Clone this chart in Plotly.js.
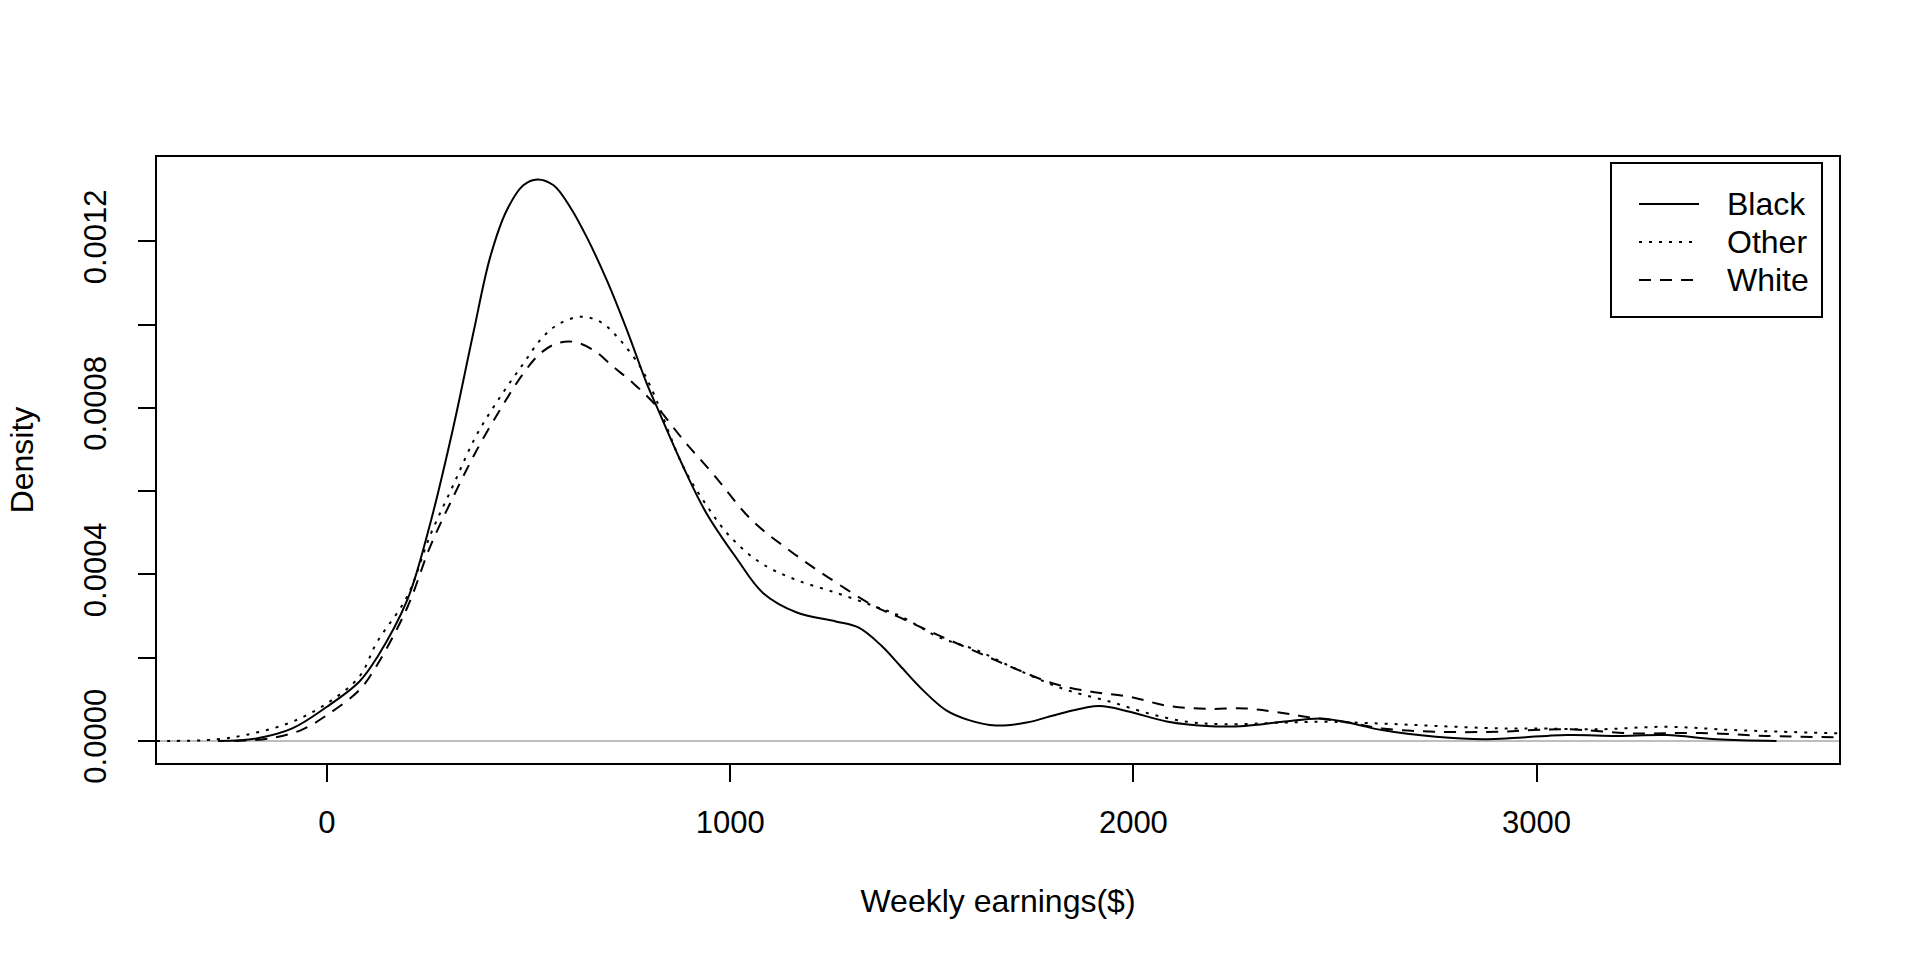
<!DOCTYPE html>
<html>
<head>
<meta charset="utf-8">
<script src="https://cdn.plot.ly/plotly-3.0.1.min.js"></script>
<style>html,body{margin:0;padding:0;background:#fff}#chart{width:1920px;height:960px}</style>
</head>
<body>
<div id="chart"></div>
<script>
// ---- data (kernel density estimates of weekly earnings) ----
const blackX = [-270, -175, -86, 0, 80, 124, 199, 256, 313, 363, 405, 446, 487, 522, 562, 603, 644, 694, 744, 793, 818, 883, 940, 1015, 1082, 1167, 1262, 1319, 1376, 1422, 1478, 1535, 1592, 1659, 1735, 1820, 1915, 1991, 2086, 2181, 2276, 2370, 2465, 2522, 2617, 2750, 2868, 3075, 3198, 3323, 3446, 3595];
const blackY = [0, 0.000006, 0.00003, 0.000082, 0.000142, 0.0002, 0.000338, 0.000522, 0.000752, 0.00098, 0.001163, 0.001275, 0.001335, 0.001349, 0.001335, 0.001283, 0.001211, 0.001107, 0.000987, 0.000859, 0.000803, 0.00066, 0.000549, 0.00044, 0.000355, 0.000308, 0.000287, 0.000272, 0.000228, 0.00018, 0.000122, 0.000074, 0.00005, 0.000037, 0.000044, 0.000066, 0.000084, 0.00007, 0.000046, 0.000036, 0.000036, 0.000046, 0.000054, 0.000046, 0.000026, 0.00001, 0.000004, 0.000014, 0.000012, 0.000014, 0.000004, 0];

const otherX = [-422, -275, -175, -86, 0, 80, 124, 199, 256, 313, 370, 432, 486, 529, 570, 628, 678, 727, 777, 810, 883, 940, 997, 1072, 1158, 1262, 1357, 1422, 1516, 1611, 1706, 1801, 1849, 1943, 2038, 2133, 2228, 2370, 2465, 2608, 2750, 2909, 2992, 3157, 3323, 3488, 3754];
const otherY = [0, 0.0000036, 0.00002, 0.000046, 0.00009, 0.000154, 0.000237, 0.000347, 0.000494, 0.000614, 0.000733, 0.00083, 0.000905, 0.000963, 0.000999, 0.001019, 0.001007, 0.000963, 0.000899, 0.000835, 0.00066, 0.000568, 0.000494, 0.00043, 0.000389, 0.000356, 0.000324, 0.0003, 0.00025, 0.000218, 0.000174, 0.000134, 0.000118, 0.000094, 0.000066, 0.000046, 0.00004, 0.000044, 0.000046, 0.000042, 0.000036, 0.00003, 0.00003, 0.000028, 0.000034, 0.000026, 0.000018];

const whiteX = [-230, -142, -64, 0, 80, 124, 199, 256, 313, 370, 432, 487, 529, 570, 611, 661, 710, 760, 812, 883, 958, 1053, 1148, 1243, 1357, 1422, 1516, 1611, 1706, 1801, 1896, 1991, 2086, 2181, 2276, 2351, 2427, 2522, 2617, 2750, 2909, 2992, 3075, 3240, 3405, 3570, 3754];
const whiteY = [0, 0.000006, 0.000026, 0.000062, 0.000122, 0.000182, 0.00032, 0.000467, 0.000586, 0.000696, 0.0008, 0.000883, 0.000931, 0.000955, 0.000959, 0.000939, 0.000899, 0.000859, 0.00081, 0.000724, 0.000641, 0.000531, 0.000457, 0.000393, 0.000324, 0.000296, 0.000254, 0.000214, 0.000174, 0.000138, 0.000118, 0.000106, 0.000084, 0.000077, 0.000078, 0.00007, 0.000058, 0.000046, 0.00003, 0.000022, 0.000022, 0.000026, 0.000028, 0.000018, 0.000019, 0.000012, 0.0000084];

const seriesNames = ['Black', 'Other', 'White'];
const xTickVals = [0, 1000, 2000, 3000];
const xTickLabels = ['0', '1000', '2000', '3000'];
const yTickVals = [0, 0.0002, 0.0004, 0.0006, 0.0008, 0.0010, 0.0012];
const yTickLabels = ['0.0000', '', '0.0004', '', '0.0008', '', '0.0012'];

const FONT = 'Liberation Sans, Arial, Helvetica, sans-serif';
const DASHES = ['solid', '3px,7px', '12px,9px'];

const traces = [
  {x: blackX, y: blackY}, {x: otherX, y: otherY}, {x: whiteX, y: whiteY}
].map((t, i) => ({
  x: t.x, y: t.y, name: seriesNames[i], mode: 'lines', showlegend: false,
  line: {color: '#000', width: 2, shape: 'spline', smoothing: 1.0, dash: DASHES[i]}
}));

// ---- legend drawn in the R style (box, long line samples, labels) ----
// plot area in pixels: left 157, right 1839, top 157, bottom 763
const PL = 157, PW = 1682, PT = 157, PH = 606;
const px = v => (v - PL) / PW;          // pixel -> paper x
const py = v => (PT + PH - v) / PH;     // pixel -> paper y
const legRowsY = [204, 242, 280];
const shapes = [
  {type: 'rect', xref: 'paper', yref: 'paper', x0: px(1611), x1: px(1822), y0: py(317), y1: py(163),
   line: {color: '#000', width: 2}, fillcolor: '#fff', layer: 'above'}
];
const annotations = [];
seriesNames.forEach((n, i) => {
  shapes.push({type: 'line', xref: 'paper', yref: 'paper', x0: px(1639), x1: px(1699),
    y0: py(legRowsY[i]), y1: py(legRowsY[i]), line: {color: '#000', width: 2, dash: DASHES[i]}, layer: 'above'});
  annotations.push({xref: 'paper', yref: 'paper', x: px(1725), y: py(legRowsY[i]), xanchor: 'left', yanchor: 'middle',
    text: n, showarrow: false, font: {family: FONT, size: 32, color: '#000'}});
});

const layout = {
  width: 1920, height: 960,
  paper_bgcolor: '#fff', plot_bgcolor: '#fff',
  font: {family: FONT, size: 31, color: '#000'},
  margin: {l: 157, r: 81, t: 157, b: 197, pad: 0},
  showlegend: false,
  shapes: shapes,
  annotations: annotations,
  xaxis: {
    range: [-421.5, 3750],
    tickmode: 'array', tickvals: xTickVals, ticktext: xTickLabels,
    ticks: 'outside', ticklen: 17, tickwidth: 2, tickcolor: '#000',
    showline: true, linewidth: 2, linecolor: '#000', mirror: true,
    showgrid: false, zeroline: false,
    tickfont: {family: FONT, size: 31},
    ticklabelstandoff: 14,
    title: {text: 'Weekly earnings($)', font: {family: FONT, size: 32}, standoff: 50}
  },
  yaxis: {
    range: [-0.0000531, 0.001403],
    tickmode: 'array', tickvals: yTickVals, ticktext: yTickLabels,
    ticks: 'outside', ticklen: 17, tickwidth: 2, tickcolor: '#000',
    tickangle: -90,
    showline: true, linewidth: 2, linecolor: '#000', mirror: true,
    showgrid: false,
    zeroline: true, zerolinecolor: '#BEBEBE', zerolinewidth: 1.5,
    tickfont: {family: FONT, size: 31},
    ticklabelstandoff: 20,
    title: {text: 'Density', font: {family: FONT, size: 32}, standoff: 34}
  }
};

Plotly.newPlot('chart', traces, layout, {displayModeBar: false, staticPlot: true});
</script>
</body>
</html>
